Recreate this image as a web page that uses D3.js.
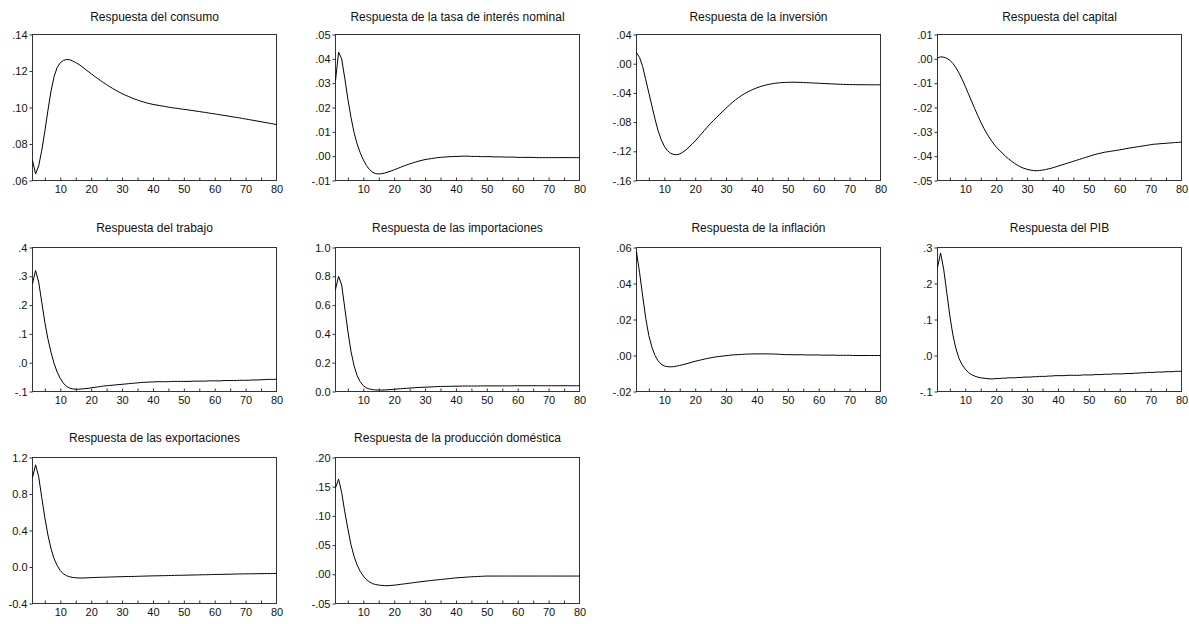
<!DOCTYPE html>
<html>
<head>
<meta charset="utf-8">
<script src="https://cdn.jsdelivr.net/npm/d3@7"></script>
<style>
  body { margin: 0; background: #fff; }
  svg { font-family: "Liberation Sans", Arial, sans-serif; }
  .tick text { fill: #111; }
</style>
</head>
<body>
<div id="chart"></div>
<script>
const titles = [
  "Respuesta del consumo",
  "Respuesta de la tasa de interés nominal",
  "Respuesta de la inversión",
  "Respuesta del capital",
  "Respuesta del trabajo",
  "Respuesta de las importaciones",
  "Respuesta de la inflación",
  "Respuesta del PIB",
  "Respuesta de las exportaciones",
  "Respuesta de la producción doméstica"
];

const periods = d3.range(1, 81);
const xLabels = [10, 20, 30, 40, 50, 60, 70, 80];
const xMinor = [5, 10, 15, 20, 25, 30, 35, 40, 45, 50, 55, 60, 65, 70, 75];

const consumo = [0.0710,0.0636,0.0680,0.0765,0.0870,0.0985,0.1090,0.1170,0.1220,0.1245,
  0.1258,0.1263,0.1262,0.1255,0.1246,0.1236,0.1224,0.1211,0.1198,0.1185,
  0.1172,0.1160,0.1148,0.1136,0.1125,0.1114,0.1104,0.1094,0.1085,0.1076,
  0.1068,0.1061,0.1054,0.1047,0.1041,0.1035,0.1030,0.1025,0.1021,0.1017,
  0.1014,0.1011,0.1008,0.1005,0.1002,0.0999,0.0997,0.0995,0.0992,0.0990,
  0.0988,0.0985,0.0983,0.0980,0.0978,0.0975,0.0973,0.0970,0.0967,0.0965,
  0.0962,0.0959,0.0957,0.0954,0.0951,0.0948,0.0946,0.0943,0.0940,0.0937,
  0.0934,0.0931,0.0928,0.0925,0.0922,0.0919,0.0916,0.0913,0.0910,0.0906];

const tasa = [0.0310,0.0428,0.0400,0.0320,0.0235,0.0160,0.0098,0.0050,0.0014,-0.0015,
  -0.0038,-0.0055,-0.0066,-0.0072,-0.0073,-0.0072,-0.0069,-0.0065,-0.0061,-0.0056,
  -0.0051,-0.0046,-0.0041,-0.0036,-0.0032,-0.0028,-0.0024,-0.0020,-0.0017,-0.0014,
  -0.0012,-0.0010,-0.0008,-0.0006,-0.0005,-0.0004,-0.0003,-0.0002,-0.0002,-0.0001,
  -0.0001,0.0000,0.0000,0.0000,-0.0001,-0.0001,-0.0001,-0.0002,-0.0002,-0.0002,
  -0.0002,-0.0003,-0.0003,-0.0003,-0.0003,-0.0004,-0.0004,-0.0004,-0.0004,-0.0005,
  -0.0005,-0.0005,-0.0005,-0.0005,-0.0005,-0.0006,-0.0006,-0.0006,-0.0006,-0.0006,
  -0.0006,-0.0006,-0.0006,-0.0006,-0.0006,-0.0006,-0.0006,-0.0006,-0.0006,-0.0006];

const inversion = [0.0150,0.0085,-0.0040,-0.0220,-0.0400,-0.0580,-0.0760,-0.0920,-0.1040,-0.1130,
  -0.1190,-0.1225,-0.1243,-0.1247,-0.1236,-0.1212,-0.1180,-0.1143,-0.1102,-0.1058,
  -0.1010,-0.0962,-0.0914,-0.0865,-0.0816,-0.0774,-0.0732,-0.0691,-0.0650,-0.0610,
  -0.0570,-0.0532,-0.0497,-0.0465,-0.0436,-0.0410,-0.0387,-0.0366,-0.0347,-0.0330,
  -0.0315,-0.0302,-0.0291,-0.0282,-0.0274,-0.0268,-0.0263,-0.0259,-0.0257,-0.0255,
  -0.0254,-0.0254,-0.0255,-0.0256,-0.0258,-0.0260,-0.0262,-0.0264,-0.0266,-0.0268,
  -0.0270,-0.0272,-0.0274,-0.0276,-0.0278,-0.0280,-0.0282,-0.0284,-0.0285,-0.0286,
  -0.0287,-0.0287,-0.0288,-0.0288,-0.0288,-0.0289,-0.0289,-0.0289,-0.0289,-0.0289];

const capital = [0.0004,0.0008,0.0007,0.0002,-0.0006,-0.0019,-0.0037,-0.0059,-0.0085,-0.0113,
  -0.0143,-0.0173,-0.0203,-0.0232,-0.0260,-0.0285,-0.0308,-0.0328,-0.0346,-0.0362,
  -0.0375,-0.0388,-0.0400,-0.0411,-0.0421,-0.0430,-0.0438,-0.0445,-0.0450,-0.0454,
  -0.0457,-0.0459,-0.0460,-0.0459,-0.0457,-0.0455,-0.0452,-0.0449,-0.0445,-0.0441,
  -0.0437,-0.0433,-0.0429,-0.0425,-0.0421,-0.0417,-0.0413,-0.0409,-0.0405,-0.0401,
  -0.0397,-0.0393,-0.0390,-0.0387,-0.0384,-0.0382,-0.0380,-0.0378,-0.0376,-0.0374,
  -0.0372,-0.0369,-0.0367,-0.0365,-0.0363,-0.0361,-0.0359,-0.0357,-0.0355,-0.0353,
  -0.0351,-0.0350,-0.0349,-0.0348,-0.0347,-0.0346,-0.0345,-0.0344,-0.0343,-0.0342];

const trabajo = [0.275,0.320,0.280,0.210,0.140,0.082,0.036,-0.003,-0.033,-0.055,
  -0.071,-0.082,-0.088,-0.091,-0.092,-0.092,-0.091,-0.090,-0.089,-0.087,
  -0.086,-0.084,-0.083,-0.081,-0.080,-0.079,-0.078,-0.077,-0.076,-0.075,
  -0.074,-0.073,-0.072,-0.071,-0.070,-0.069,-0.068,-0.068,-0.067,-0.067,
  -0.066,-0.066,-0.066,-0.066,-0.066,-0.065,-0.065,-0.065,-0.065,-0.065,
  -0.065,-0.065,-0.064,-0.064,-0.064,-0.064,-0.064,-0.063,-0.063,-0.063,
  -0.063,-0.063,-0.062,-0.062,-0.062,-0.062,-0.062,-0.061,-0.061,-0.061,
  -0.061,-0.060,-0.060,-0.060,-0.059,-0.059,-0.058,-0.058,-0.058,-0.057];

const importaciones = [0.71,0.80,0.74,0.58,0.42,0.28,0.18,0.11,0.068,0.040,
  0.025,0.017,0.013,0.011,0.010,0.010,0.011,0.012,0.014,0.016,
  0.018,0.019,0.021,0.022,0.024,0.025,0.027,0.028,0.029,0.030,
  0.031,0.032,0.033,0.034,0.035,0.035,0.036,0.036,0.037,0.037,
  0.037,0.038,0.038,0.038,0.038,0.038,0.038,0.039,0.039,0.039,
  0.039,0.039,0.039,0.039,0.039,0.039,0.039,0.039,0.040,0.040,
  0.040,0.040,0.040,0.040,0.040,0.040,0.040,0.040,0.040,0.040,
  0.040,0.040,0.040,0.040,0.040,0.040,0.040,0.040,0.040,0.040];

const inflacion = [0.0575,0.0460,0.0330,0.0205,0.0110,0.0045,0.0000,-0.0030,-0.0048,-0.0058,
  -0.0062,-0.0063,-0.0062,-0.0059,-0.0055,-0.0051,-0.0047,-0.0042,-0.0037,-0.0032,
  -0.0028,-0.0024,-0.0020,-0.0016,-0.0013,-0.0010,-0.0007,-0.0005,-0.0003,-0.0001,
  0.0001,0.0003,0.0004,0.0005,0.0006,0.0007,0.0008,0.0008,0.0009,0.0009,
  0.0009,0.0009,0.0009,0.0009,0.0008,0.0008,0.0007,0.0006,0.0005,0.0005,
  0.0004,0.0004,0.0004,0.0004,0.0004,0.0003,0.0003,0.0003,0.0003,0.0003,
  0.0002,0.0002,0.0002,0.0002,0.0002,0.0001,0.0001,0.0001,0.0001,0.0001,
  0.0000,0.0000,0.0000,0.0000,0.0000,0.0000,0.0000,0.0000,0.0000,0.0000];

const pib = [0.245,0.285,0.240,0.175,0.110,0.056,0.018,-0.009,-0.026,-0.038,
  -0.047,-0.053,-0.057,-0.060,-0.062,-0.063,-0.064,-0.065,-0.065,-0.064,
  -0.064,-0.063,-0.063,-0.062,-0.062,-0.062,-0.061,-0.061,-0.060,-0.060,
  -0.060,-0.059,-0.059,-0.058,-0.058,-0.058,-0.057,-0.057,-0.056,-0.056,
  -0.056,-0.056,-0.055,-0.055,-0.055,-0.055,-0.055,-0.054,-0.054,-0.054,
  -0.054,-0.053,-0.053,-0.053,-0.052,-0.052,-0.052,-0.051,-0.051,-0.051,
  -0.051,-0.050,-0.050,-0.050,-0.049,-0.049,-0.048,-0.048,-0.047,-0.047,
  -0.047,-0.046,-0.046,-0.046,-0.045,-0.045,-0.045,-0.044,-0.044,-0.044];

const exportaciones = [0.98,1.12,0.99,0.76,0.54,0.35,0.20,0.09,0.015,-0.040,
  -0.075,-0.095,-0.107,-0.114,-0.118,-0.120,-0.121,-0.120,-0.118,-0.116,
  -0.115,-0.114,-0.113,-0.112,-0.111,-0.110,-0.109,-0.108,-0.107,-0.106,
  -0.105,-0.104,-0.104,-0.103,-0.102,-0.101,-0.100,-0.099,-0.098,-0.097,
  -0.097,-0.096,-0.095,-0.095,-0.094,-0.093,-0.092,-0.091,-0.091,-0.090,
  -0.089,-0.088,-0.088,-0.087,-0.086,-0.085,-0.085,-0.084,-0.083,-0.082,
  -0.081,-0.081,-0.080,-0.079,-0.079,-0.078,-0.077,-0.076,-0.076,-0.075,
  -0.075,-0.074,-0.074,-0.073,-0.073,-0.072,-0.072,-0.072,-0.071,-0.071];

const produccion = [0.148,0.163,0.140,0.107,0.078,0.051,0.031,0.016,0.005,-0.003,
  -0.009,-0.013,-0.016,-0.0175,-0.0185,-0.019,-0.0195,-0.0195,-0.019,-0.0186,
  -0.018,-0.0173,-0.0166,-0.0159,-0.0152,-0.0145,-0.0138,-0.0131,-0.0125,-0.0118,
  -0.0112,-0.0106,-0.0100,-0.0095,-0.0089,-0.0084,-0.0078,-0.0073,-0.0067,-0.0062,
  -0.0058,-0.0054,-0.0050,-0.0046,-0.0043,-0.0040,-0.0037,-0.0035,-0.0032,-0.0030,
  -0.0030,-0.0030,-0.0030,-0.0030,-0.0030,-0.0030,-0.0030,-0.0030,-0.0030,-0.0030,
  -0.0030,-0.0030,-0.0030,-0.0030,-0.0030,-0.0030,-0.0030,-0.0030,-0.0030,-0.0030,
  -0.0030,-0.0030,-0.0030,-0.0030,-0.0030,-0.0030,-0.0030,-0.0030,-0.0030,-0.0030];

// y ticks and the labels exactly as printed in the chart
const yTicks = [
  [0.06, 0.08, 0.10, 0.12, 0.14],
  [-0.01, 0, 0.01, 0.02, 0.03, 0.04, 0.05],
  [-0.16, -0.12, -0.08, -0.04, 0, 0.04],
  [-0.05, -0.04, -0.03, -0.02, -0.01, 0, 0.01],
  [-0.1, 0, 0.1, 0.2, 0.3, 0.4],
  [0, 0.2, 0.4, 0.6, 0.8, 1.0],
  [-0.02, 0, 0.02, 0.04, 0.06],
  [-0.1, 0, 0.1, 0.2, 0.3],
  [-0.4, 0, 0.4, 0.8, 1.2],
  [-0.05, 0, 0.05, 0.10, 0.15, 0.20]
];
const yLabels = [
  [".06", ".08", ".10", ".12", ".14"],
  ["-.01", ".00", ".01", ".02", ".03", ".04", ".05"],
  ["-.16", "-.12", "-.08", "-.04", ".00", ".04"],
  ["-.05", "-.04", "-.03", "-.02", "-.01", ".00", ".01"],
  ["-.1", ".0", ".1", ".2", ".3", ".4"],
  ["0.0", "0.2", "0.4", "0.6", "0.8", "1.0"],
  ["-.02", ".00", ".02", ".04", ".06"],
  ["-.1", ".0", ".1", ".2", ".3"],
  ["-0.4", "0.0", "0.4", "0.8", "1.2"],
  ["-.05", ".00", ".05", ".10", ".15", ".20"]
];

const series = [consumo, tasa, inversion, capital, trabajo,
  importaciones, inflacion, pib, exportaciones, produccion];

// layout
const width = 1189, height = 624;
const colLeft = [32, 335, 636, 937];
const rowTop = [34, 247, 457];
const rowH = [146, 144, 146];
const plotW = 244;

const svg = d3.select("#chart").append("svg")
    .attr("width", width)
    .attr("height", height);

series.forEach((vals, i) => {
  const col = i % 4, row = Math.floor(i / 4);
  const h = rowH[row];
  const ticks = yTicks[i];

  const g = svg.append("g")
      .attr("transform", `translate(${colLeft[col] + 0.5},${rowTop[row] + 0.5})`);

  const x = d3.scaleLinear().domain([1, 80]).range([0, plotW]);
  const y = d3.scaleLinear().domain([ticks[0], ticks[ticks.length - 1]]).range([h, 0]);

  g.append("text")
      .attr("x", plotW / 2)
      .attr("y", row === 0 ? -14 : -16)
      .attr("text-anchor", "middle")
      .attr("font-size", 12)
      .attr("fill", "#111")
      .text(titles[i]);

  // y axis, ticks outside
  const ya = g.append("g")
      .call(d3.axisLeft(y).tickValues(ticks)
        .tickFormat((d, j) => yLabels[i][j])
        .tickSize(3).tickPadding(2));
  ya.select(".domain").remove();
  ya.selectAll("line").attr("stroke", "#333");
  ya.selectAll("text").attr("font-size", 11).attr("font-family", null);

  // x labels under the frame
  const xa = g.append("g")
      .attr("transform", `translate(0,${h})`)
      .call(d3.axisBottom(x).tickValues(xLabels).tickSize(0).tickPadding(5));
  xa.select(".domain").remove();
  xa.selectAll("text").attr("font-size", 11).attr("font-family", null);

  // small inward ticks on the bottom edge
  const xm = g.append("g")
      .attr("transform", `translate(0,${h})`)
      .call(d3.axisTop(x).tickValues(xMinor).tickSize(3).tickFormat(""));
  xm.select(".domain").remove();
  xm.selectAll("line").attr("stroke", "#333");

  g.append("rect")
      .attr("width", plotW)
      .attr("height", h)
      .attr("fill", "none")
      .attr("stroke", "#333");

  const line = d3.line()
      .x((d, j) => x(periods[j]))
      .y(d => y(d));

  g.append("path")
      .datum(vals)
      .attr("fill", "none")
      .attr("stroke", "#000")
      .attr("stroke-width", 1)
      .attr("d", line);
});
</script>
</body>
</html>
